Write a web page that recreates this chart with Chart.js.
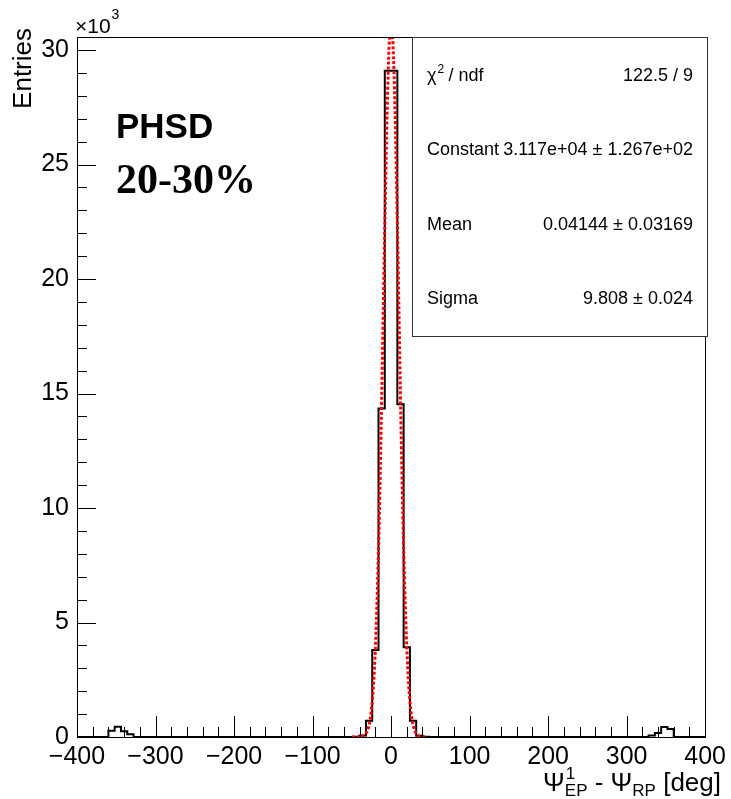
<!DOCTYPE html>
<html>
<head>
<meta charset="utf-8">
<script src="https://cdn.jsdelivr.net/npm/chart.js@4.4.1/dist/chart.umd.min.js"></script>
<style>
html, body { margin: 0; padding: 0; background: #fff; }
</style>
</head>
<body>
<canvas id="histo" width="731" height="799"></canvas>
<script>
// histogram, 8 deg bins from -400 to 400; only the non-empty bins (low edge -> entries)
var binLow = [-360, -352, -344, -336, -48, -40, -32, -24, -16, -8, 0, 8, 16, 24, 32, 40, 328, 336, 344, 352];
var binEntries = [270, 450, 250, 120, 10, 70, 710, 3800, 14350, 29100, 29100, 14530, 3920, 710, 60, 10, 70, 170, 440, 350];
var xMin = -400, xMax = 400, binWidth = 8;
var yMax = 30570;

// gaus fit curve
var fitX = [-50, -45, -40, -37.5, -35, -32.5, -30, -27.5, -25, -22.5, -20, -17.5, -15, -12.5, -10, -7.5, -5, -2.5, 0,
            2.5, 5, 7.5, 10, 12.5, 15, 17.5, 20, 22.5, 25, 27.5, 30, 32.5, 35, 37.5, 40, 45];
var fitY = [0, 1, 7, 21, 53, 127, 287, 605, 1198, 2223, 3869, 6297, 9619, 13762, 18459, 23197, 27314, 30142, 31170,
            30204, 27430, 23340, 18615, 13905, 9741, 6390, 3931, 2266, 1223, 619, 294, 130, 54, 21, 8, 1];

var xTicks = [-400, -300, -200, -100, 0, 100, 200, 300, 400];
var yTicks = [0, 5000, 10000, 15000, 20000, 25000, 30000];
var xMinorStep = 20, yMinorStep = 1000;

var statNames = ['χ2 / ndf', 'Constant', 'Mean', 'Sigma'];
var statValues = ['122.5 / 9', '3.117e+04 ± 1.267e+02', '0.04144 ± 0.03169', '9.808 ± 0.024'];

var histPoints = [];
for (var e = xMin; e < xMax; e += binWidth) {
    var k = binLow.indexOf(e);
    histPoints.push({ x: e, y: k >= 0 ? binEntries[k] : 0 });
}
histPoints.push({ x: xMax, y: histPoints[histPoints.length - 1].y });

var fitPoints = [];
for (var i = 0; i < fitX.length; i++) {
    fitPoints.push({ x: fitX[i], y: fitY[i] });
}

var sans = '"Liberation Sans", Arial, sans-serif';

var rootDecor = {
    id: 'rootDecor',
    afterDatasetsDraw: function (chart) {
        var c = chart.ctx, a = chart.chartArea;
        var sx = chart.scales.x, sy = chart.scales.y;
        c.save();
        c.strokeStyle = '#000';
        c.lineWidth = 1;
        // frame
        c.strokeRect(Math.round(a.left) + 0.5, Math.round(a.top) + 0.5, Math.round(a.right - a.left), Math.round(a.bottom - a.top));
        // x ticks (inside, bottom only)
        c.beginPath();
        for (var v = xMin; v <= xMax; v += xMinorStep) {
            var px = Math.round(sx.getPixelForValue(v)) + 0.5;
            var len = (v % 100 === 0) ? 21 : 10;
            c.moveTo(px, a.bottom);
            c.lineTo(px, a.bottom - len);
        }
        // y ticks
        for (var w = 0; w <= yMax; w += yMinorStep) {
            var py = Math.round(sy.getPixelForValue(w)) + 0.5;
            var l2 = (w % 5000 === 0) ? 19 : 10;
            c.moveTo(a.left, py);
            c.lineTo(a.left + l2, py);
        }
        c.stroke();

        // stats box
        var bx = 412.5, by = 37.5, bw = 295, bh = 299;
        c.fillStyle = '#fff';
        c.fillRect(bx, by, bw, bh);
        c.strokeStyle = '#333';
        c.strokeRect(bx, by, bw, bh);
        c.fillStyle = '#000';
        c.font = '18px ' + sans;
        c.textBaseline = 'middle';
        for (var r = 0; r < statNames.length; r++) {
            var ty = 76 + 74.5 * r;
            c.textAlign = 'left';
            if (r === 0) {
                c.fillText('χ', 427, ty);
                var cw = c.measureText('χ').width;
                c.font = '12px ' + sans;
                c.fillText('2', 427 + cw + 1, ty - 6);
                c.font = '18px ' + sans;
                c.fillText('/ ndf', 427 + cw + 12, ty);
            } else {
                c.fillText(statNames[r], 427, ty);
            }
            c.textAlign = 'right';
            c.fillText(statValues[r], 693, ty);
        }
        c.restore();
    },
    afterDraw: function (chart) {
        var c = chart.ctx;
        c.save();
        c.fillStyle = '#000';
        // y axis title
        c.save();
        c.translate(24, 28);
        c.rotate(-Math.PI / 2);
        c.font = '26px ' + sans;
        c.textAlign = 'right';
        c.textBaseline = 'middle';
        c.fillText('Entries', 0, 0);
        c.restore();
        // exponent
        c.font = '21px ' + sans;
        c.textAlign = 'left';
        c.textBaseline = 'alphabetic';
        c.fillText('×10', 75, 33);
        var ew = c.measureText('×10').width;
        c.font = '14px ' + sans;
        c.fillText('3', 75 + ew + 1, 19);

        // x axis title, right aligned
        var big = '26px ' + sans, small = '17px ' + sans;
        var pieces = ['Ψ', 'EP', ' - Ψ', 'RP', ' [deg]'];
        var fonts = [big, small, big, small, big];
        var widths = [], total = 0;
        for (var p = 0; p < pieces.length; p++) {
            c.font = fonts[p];
            widths.push(c.measureText(pieces[p]).width);
            total += widths[p];
        }
        var x0 = 721 - total, base = 791;
        c.font = big; c.fillText('Ψ', x0, base);
        x0 += widths[0];
        c.font = small; c.fillText('1', x0 + 1, base - 12);
        c.fillText('EP', x0, base + 5);
        x0 += widths[1];
        c.font = big; c.fillText(' - Ψ', x0, base);
        x0 += widths[2];
        c.font = small; c.fillText('RP', x0, base + 5);
        x0 += widths[3];
        c.font = big; c.fillText(' [deg]', x0, base);

        // labels on the plot
        c.font = 'bold 35px ' + sans;
        c.fillText('PHSD', 116, 138);
        c.font = 'bold 42px "Liberation Serif", "Times New Roman", serif';
        c.fillText('20-30%', 116, 193);
        c.restore();
    }
};

var ctx = document.getElementById('histo');
var histChart = new Chart(ctx, {
    type: 'line',
    data: {
        datasets: [
            {
                label: 'fit',
                data: fitPoints,
                borderColor: '#ff0000',
                borderWidth: 3,
                borderDash: [3, 2],
                pointRadius: 0,
                fill: false,
                cubicInterpolationMode: 'monotone'
            },
            {
                label: 'histo',
                data: histPoints,
                borderColor: '#000000',
                borderWidth: 2,
                pointRadius: 0,
                fill: false,
                stepped: 'before'
            }
        ]
    },
    options: {
        responsive: false,
        animation: false,
        layout: { padding: { left: 0, top: 37, right: 23, bottom: 0 } },
        plugins: { legend: { display: false }, tooltip: { enabled: false } },
        scales: {
            x: {
                type: 'linear',
                min: xMin,
                max: xMax,
                grid: { display: false, drawTicks: false },
                border: { display: false },
                afterBuildTicks: function (s) { s.ticks = xTicks.map(function (v) { return { value: v }; }); },
                afterFit: function (s) { s.height = 62; },
                ticks: {
                    autoSkip: false,
                    maxRotation: 0,
                    padding: 5,
                    color: '#000',
                    font: { family: sans, size: 25 },
                    callback: function (v) { return v < 0 ? '\u2212' + Math.abs(v) : String(v); }
                }
            },
            y: {
                min: 0,
                max: yMax,
                grid: { display: false, drawTicks: false },
                border: { display: false },
                afterBuildTicks: function (s) { s.ticks = yTicks.map(function (v) { return { value: v }; }); },
                afterFit: function (s) { s.width = 77; },
                ticks: {
                    padding: 8,
                    color: '#000',
                    font: { family: sans, size: 25 },
                    callback: function (v) { return String(v / 1000); }
                }
            }
        }
    },
    plugins: [rootDecor]
});
</script>
</body>
</html>
